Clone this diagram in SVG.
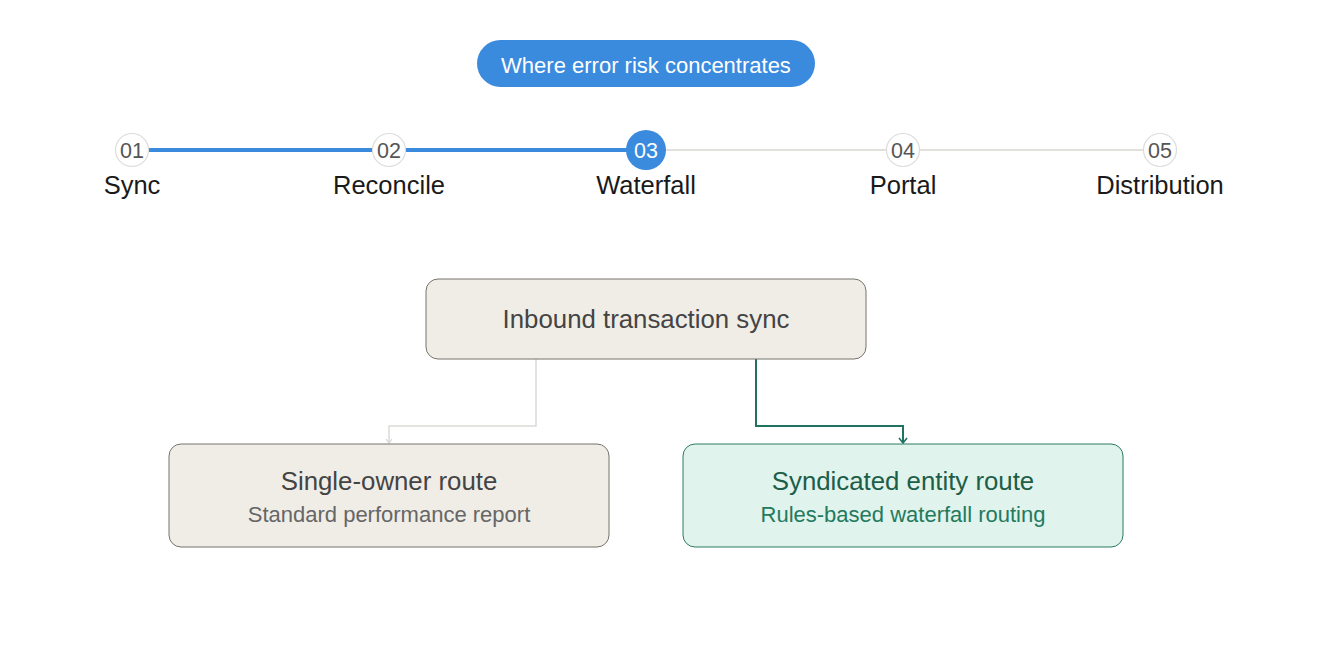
<svg xmlns="http://www.w3.org/2000/svg" width="1330" height="648" viewBox="0 0 1330 648">
<style>
text{font-family:"Liberation Sans",Arial,sans-serif;text-anchor:middle}
.num{font-size:21.5px;fill:#555}
.lbl{font-size:25.5px;fill:#1a1a1a}
.stepc{fill:#fff;stroke:#dcdcdc;stroke-width:1.2}
.node{fill:#f0ede7;stroke:#77726c;stroke-width:1}
.title{font-size:25.8px;fill:#444}
.sub{font-size:22px;fill:#666}
</style>
<defs>
<marker id="arrG" markerWidth="10" markerHeight="10" refX="8" refY="5" orient="auto" markerUnits="userSpaceOnUse" viewBox="0 0 10 10">
<path d="M3,1 L8,5 L3,9" fill="none" stroke="#1f7360" stroke-width="1.6"/>
</marker>
<marker id="arrL" markerWidth="10" markerHeight="10" refX="8" refY="5" orient="auto" markerUnits="userSpaceOnUse" viewBox="0 0 10 10">
<path d="M4,2 L8,5 L4,8" fill="none" stroke="#d8d6d2" stroke-width="1.2"/>
</marker>
</defs>
<rect width="1330" height="648" fill="#fff"/>
<g id="header">
<rect x="477" y="40" width="338" height="47" rx="23.5" fill="#3a8ade"/>
<text x="646" y="73" font-size="22" fill="#fff">Where error risk concentrates</text>
</g>
<g id="timeline-lines">
<line x1="149" y1="150" x2="372" y2="150" stroke="#3a8ade" stroke-width="4"/>
<line x1="406" y1="150" x2="627" y2="150" stroke="#3a8ade" stroke-width="4"/>
<line x1="666" y1="150" x2="886" y2="150" stroke="#e2e0dc" stroke-width="2"/>
<line x1="920" y1="150" x2="1143" y2="150" stroke="#e2e0dc" stroke-width="2"/>
</g>
<g id="step1"><circle class="stepc" cx="132" cy="150" r="16.5"/><text class="num" x="132" y="158">01</text><text class="lbl" x="132" y="194">Sync</text></g>
<g id="step2"><circle class="stepc" cx="389" cy="150" r="16.5"/><text class="num" x="389" y="158">02</text><text class="lbl" x="389" y="194">Reconcile</text></g>
<g id="step3"><circle cx="646" cy="150" r="20" fill="#3a8ade"/><text class="num" x="646" y="158" style="fill:#fff">03</text><text class="lbl" x="646" y="194">Waterfall</text></g>
<g id="step4"><circle class="stepc" cx="903" cy="150" r="16.5"/><text class="num" x="903" y="158">04</text><text class="lbl" x="903" y="194">Portal</text></g>
<g id="step5"><circle class="stepc" cx="1160" cy="150" r="16.5"/><text class="num" x="1160" y="158">05</text><text class="lbl" x="1160" y="194">Distribution</text></g>
<g id="connectors">
<path d="M536,359 V426 H389 V443" fill="none" stroke="#dcdad6" stroke-width="1.5" marker-end="url(#arrL)"/>
<path d="M756,359 V426 H903 V443" fill="none" stroke="#1f7360" stroke-width="2" marker-end="url(#arrG)"/>
</g>
<g id="inbound">
<rect class="node" x="426" y="279" width="440" height="80" rx="12"/>
<text class="title" x="646" y="328">Inbound transaction sync</text>
</g>
<g id="single-owner">
<rect class="node" x="169" y="444" width="440" height="103" rx="12"/>
<text class="title" x="389" y="490">Single-owner route</text>
<text class="sub" x="389" y="522">Standard performance report</text>
</g>
<g id="syndicated">
<rect x="683" y="444" width="440" height="103" rx="12" fill="#e0f3ec" stroke="#2a7a62" stroke-width="1"/>
<text x="903" y="490" font-size="25.8" fill="#1c5e48">Syndicated entity route</text>
<text x="903" y="522" font-size="22" fill="#237a5e">Rules-based waterfall routing</text>
</g>
</svg>
